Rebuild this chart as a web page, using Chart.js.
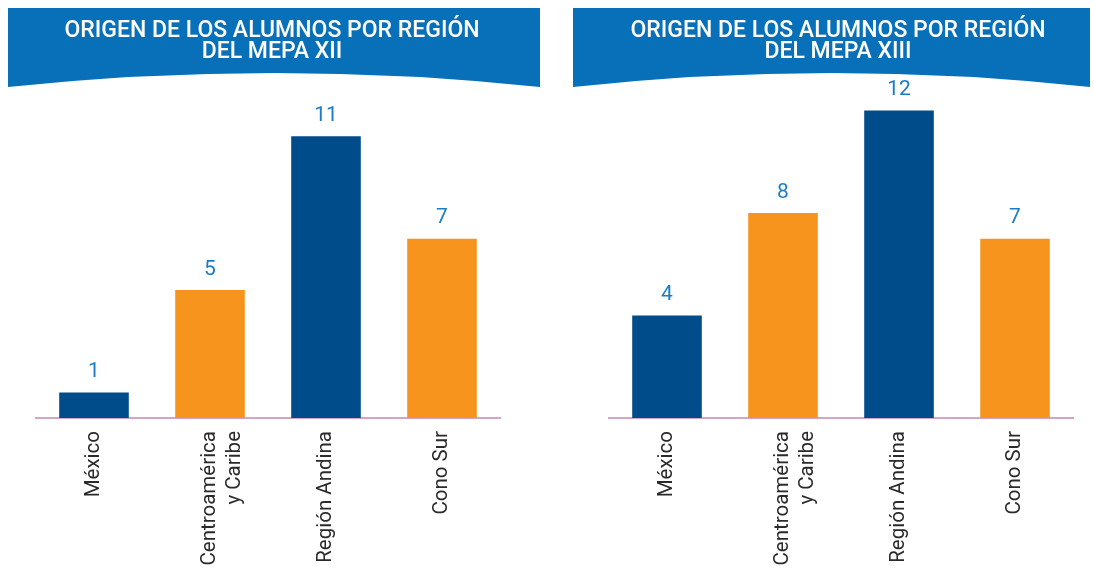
<!DOCTYPE html>
<html>
<head>
<meta charset="utf-8">
<script src="https://cdn.jsdelivr.net/npm/chart.js@4.4.1/dist/chart.umd.min.js"></script>
<style>
  html, body { margin: 0; padding: 0; background: #fff; }
  .wrap { position: absolute; top: 0; width: 547px; height: 587px; }
</style>
</head>
<body>
<div class="wrap" style="left:0"><canvas id="mepa12" width="547" height="587"></canvas></div>
<div class="wrap" style="left:547px"><canvas id="mepa13" width="547" height="587"></canvas></div>
<script>
// datos
const regiones = ["México", ["Centroamérica", "y Caribe"], "Región Andina", "Cono Sur"];
const alumnosXII = [1, 5, 11, 7];
const alumnosXIII = [4, 8, 12, 7];
const tituloXII = ["ORIGEN DE LOS ALUMNOS POR REGIÓN", "DEL MEPA XII"];
const tituloXIII = ["ORIGEN DE LOS ALUMNOS POR REGIÓN", "DEL MEPA XIII"];

const AZUL = "#004c8a";
const NARANJA = "#f7941d";

// cabecera azul con borde inferior curvo
const bannerPlugin = {
  id: "banner",
  beforeDraw(chart, args, opts) {
    const ctx = chart.ctx;
    ctx.save();
    ctx.fillStyle = "#0870b8";
    ctx.beginPath();
    ctx.moveTo(opts.x0, 8);
    ctx.lineTo(opts.x1, 8);
    ctx.lineTo(opts.x1, 87);
    ctx.quadraticCurveTo((opts.x0 + opts.x1) / 2, 59, opts.x0, 87);
    ctx.closePath();
    ctx.fill();
    ctx.fillStyle = "#fff";
    ctx.font = "500 23px Roboto";
    ctx.textAlign = "center";
    ctx.textBaseline = "middle";
    opts.lines.forEach((l, i) => ctx.fillText(l, opts.tx, 31 + i * 21));
    ctx.restore();
  },
};

// numeros sobre las barras
const valoresPlugin = {
  id: "valores",
  afterDatasetsDraw(chart) {
    const ctx = chart.ctx;
    const meta = chart.getDatasetMeta(0);
    const data = chart.data.datasets[0].data;
    ctx.save();
    ctx.fillStyle = "#1b7cc4";
    ctx.font = "400 21px Roboto";
    ctx.textAlign = "center";
    ctx.textBaseline = "bottom";
    meta.data.forEach((bar, i) => ctx.fillText(data[i], bar.x, bar.y - 10));
    ctx.restore();
  },
};

const crearGrafico = (id, valores, titulo, pad, banner) => {
  new Chart(document.getElementById(id), {
    type: "bar",
    data: {
      labels: regiones,
      datasets: [
        {
          data: valores,
          backgroundColor: [AZUL, NARANJA, AZUL, NARANJA],
          categoryPercentage: 1,
          barPercentage: 0.6,
        },
      ],
    },
    options: {
      responsive: false,
      animation: false,
      layout: { padding: { left: pad.left, right: pad.right, top: 85, bottom: 0 } },
      scales: {
        x: {
          grid: { display: false },
          border: { color: "#d4a5c4", width: 2 },
          ticks: {
            color: "#2a2a2a",
            font: { family: "Roboto", size: 20.5, weight: "400" },
            minRotation: 90,
            maxRotation: 90,
            padding: 5,
          },
          afterFit: (scale) => { scale.height = 169; },
        },
        y: { display: false, min: 0, max: 13 },
      },
      plugins: {
        legend: { display: false },
        tooltip: { enabled: false },
        banner: { x0: banner.x0, x1: banner.x1, tx: banner.tx, lines: titulo },
      },
    },
    plugins: [bannerPlugin, valoresPlugin],
  });
};

crearGrafico("mepa12", alumnosXII, tituloXII, { left: 36, right: 47 }, { x0: 8, x1: 540, tx: 272 });
crearGrafico("mepa13", alumnosXIII, tituloXIII, { left: 62, right: 21 }, { x0: 26, x1: 543, tx: 291 });
</script>
</body>
</html>
